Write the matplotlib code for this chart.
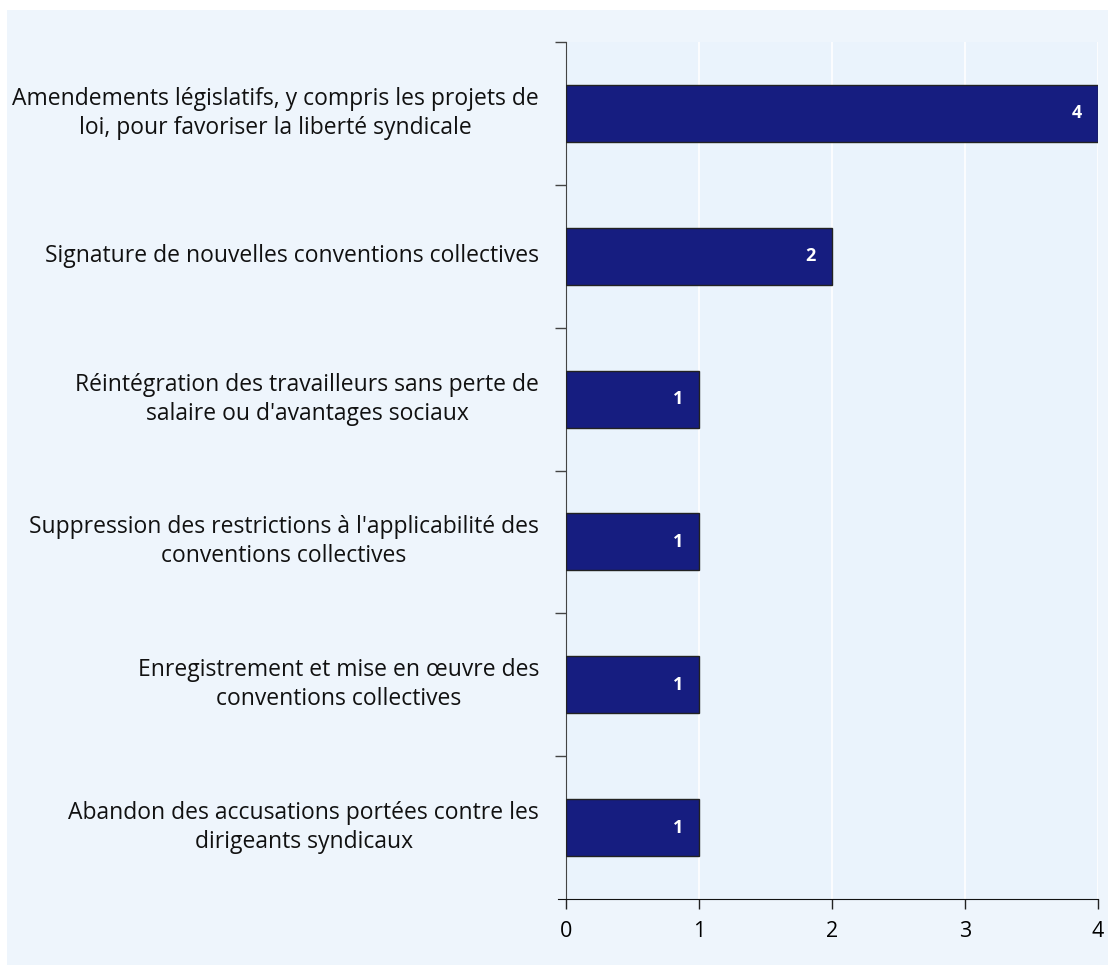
"""Horizontal bar chart: types of progress reported."""
import matplotlib
matplotlib.use("Agg")
import matplotlib.pyplot as plt
from matplotlib.patches import Rectangle

plt.rcParams["font.family"] = ["Open Sans", "Noto Sans", "DejaVu Sans"]

CATEGORIES = [
    "Amendements législatifs, y compris les projets de\nloi, pour favoriser la liberté syndicale",
    "Signature de nouvelles conventions collectives",
    "Réintégration des travailleurs sans perte de\nsalaire ou d'avantages sociaux",
    "Suppression des restrictions à l'applicabilité des\nconventions collectives",
    "Enregistrement et mise en œuvre des\nconventions collectives",
    "Abandon des accusations portées contre les\ndirigeants syndicaux",
]
VALUES = [4, 2, 1, 1, 1, 1]
XTICKS = [0, 1, 2, 3, 4]

BAR = "#161d80"
FIG_BG = "#eef5fc"
AX_BG = "#eaf3fc"

fig = plt.figure(figsize=(11.08, 9.65), dpi=100)
fig.patch.set_facecolor("white")
fig.add_artist(Rectangle((7 / 1108, 0), 1 - 7 / 1108, 1 - 10 / 965,
                         transform=fig.transFigure, facecolor=FIG_BG,
                         edgecolor="none", zorder=-10))

ax = fig.add_axes([566 / 1108, 1 - 899 / 965, 532 / 1108, 857 / 965])
ax.set_facecolor(AX_BG)

ypos = list(range(len(CATEGORIES)))
ax.barh(ypos, VALUES, height=0.4, color=BAR, edgecolor="#222222", lw=1, zorder=3)
for y, v in zip(ypos, VALUES):
    ax.text(v - 0.16, y, str(v), color="white", fontsize=13, fontweight="bold",
            ha="center", va="center", zorder=4)

ax.set_ylim(len(CATEGORIES) - 0.5, -0.5)
ax.set_xlim(0, 4)
ax.set_xticks(XTICKS)
ax.set_xticklabels([str(t) for t in XTICKS], fontsize=15.5)

# category labels centred on bars, ticks between bars
ax.set_yticks([i - 0.5 for i in ypos])
ax.set_yticklabels([])
ax.tick_params(axis="y", length=8, color="#444444", width=1)
ax.tick_params(axis="x", length=7, color="#222222", width=1, pad=9)
for y, lab in zip(ypos, CATEGORIES):
    ax.text(-27 / 532, y, lab, ha="right", va="center", fontsize=16.5,
            multialignment="center", linespacing=1.27,
            transform=ax.get_yaxis_transform(), color="#111111")

ax.grid(axis="x", color="white", lw=1.2, zorder=0)
ax.set_axisbelow(True)
for s in ["top", "right"]:
    ax.spines[s].set_visible(False)
ax.spines["left"].set_color("#444444")
ax.spines["bottom"].set_color("#111111")
ax.spines["bottom"].set_bounds(-0.06, 4)

fig.savefig("out.png", dpi=100)
